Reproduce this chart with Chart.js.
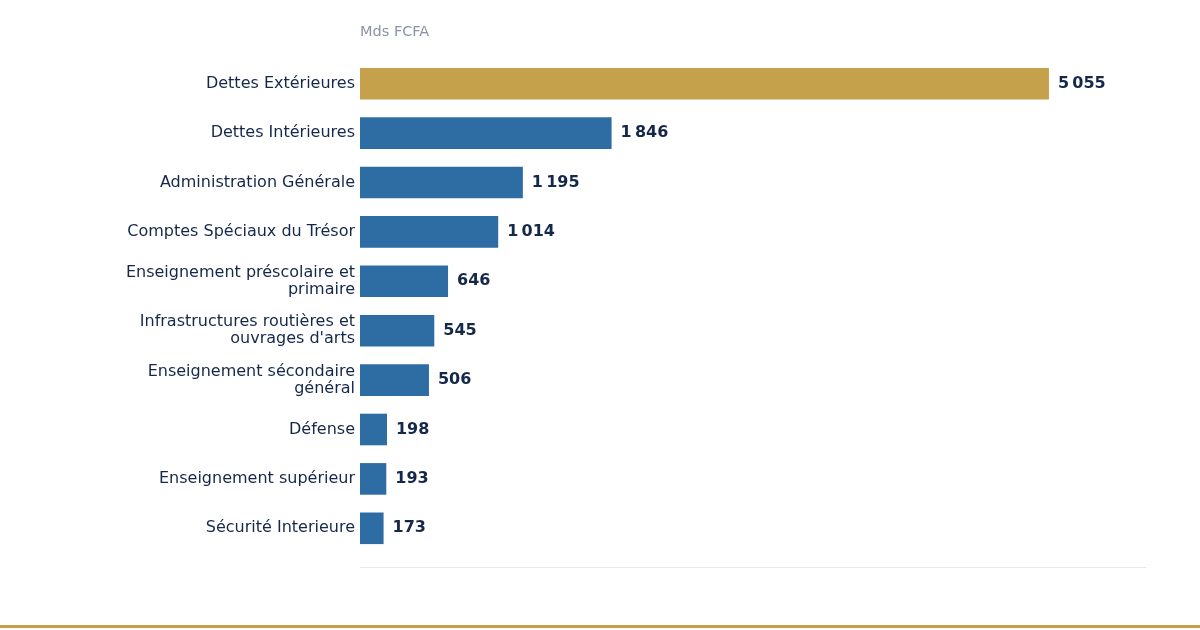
<!DOCTYPE html>
<html>
<head>
<meta charset="utf-8">
<script src="https://cdn.jsdelivr.net/npm/chart.js@4/dist/chart.umd.min.js"></script>
<style>
  html, body { margin: 0; padding: 0; background: #ffffff; }
  #wrap { width: 1200px; height: 630px; position: relative; overflow: hidden; }
  #c { display: block; }
  #goldline { position: absolute; left: 0; top: 625px; width: 1200px; height: 3px; background: #C4A04E; }
</style>
</head>
<body>
<div id="wrap">
  <canvas id="c" width="1200" height="624"></canvas>
  <div id="goldline"></div>
</div>
<script>
const categories = [
  "Dettes Extérieures",
  "Dettes Intérieures",
  "Administration Générale",
  "Comptes Spéciaux du Trésor",
  ["Enseignement préscolaire et", "primaire"],
  ["Infrastructures routières et", "ouvrages d'arts"],
  ["Enseignement sécondaire", "général"],
  "Défense",
  "Enseignement supérieur",
  "Sécurité Interieure"
];
const values = [5055, 1846, 1195, 1014, 646, 545, 506, 198, 193, 173];
const unitLabel = "Mds FCFA";

const GOLD = "#C5A14B";
const BLUE = "#2E6DA4";
const NAVY = "#15284A";
const FONT = "'DejaVu Sans', sans-serif";

function fmt(v) {
  return String(v).replace(/\B(?=(\d{3})+(?!\d))/g, "\u202f");
}

const valueLabels = {
  id: "valueLabels",
  afterDatasetsDraw(chart) {
    const ctx = chart.ctx;
    const meta = chart.getDatasetMeta(0);
    ctx.save();
    ctx.font = "bold 16px " + FONT;
    ctx.fillStyle = NAVY;
    ctx.textAlign = "left";
    ctx.textBaseline = "middle";
    meta.data.forEach((bar, i) => {
      ctx.fillText(fmt(values[i]), bar.x + 9, bar.y);
    });
    ctx.restore();
  }
};

const baseLine = {
  id: "baseLine",
  afterDraw(chart) {
    const a = chart.chartArea;
    const ctx = chart.ctx;
    ctx.save();
    ctx.strokeStyle = "#E8E8E8";
    ctx.lineWidth = 1;
    ctx.beginPath();
    ctx.moveTo(a.left, Math.round(a.bottom + 14) + 0.5);
    ctx.lineTo(a.right, Math.round(a.bottom + 14) + 0.5);
    ctx.stroke();
    ctx.restore();
  }
};

new Chart(document.getElementById("c"), {
  type: "bar",
  data: {
    labels: categories,
    datasets: [{
      data: values,
      backgroundColor: values.map((v, i) => i === 0 ? GOLD : BLUE),
      categoryPercentage: 0.64,
      barPercentage: 1.0,
      borderWidth: 0
    }]
  },
  options: {
    indexAxis: "y",
    responsive: false,
    animation: false,
    devicePixelRatio: 1,
    layout: { padding: { left: 0, right: 54, top: 0, bottom: 71 } },
    plugins: {
      legend: { display: false },
      tooltip: { enabled: false }
    },
    scales: {
      x: {
        position: "top",
        min: 0,
        max: 5767,
        grid: { display: false, drawTicks: false },
        border: { display: false },
        ticks: { display: false },
        title: {
          display: true,
          text: unitLabel,
          align: "start",
          color: "#8A94A6",
          font: { family: FONT, size: 14.5 },
          padding: { top: 24, bottom: 0 }
        },
        afterFit(scale) { scale.height = 59; }
      },
      y: {
        grid: { display: false, drawTicks: false },
        border: { display: false },
        ticks: {
          color: NAVY,
          font: { family: FONT, size: 16, lineHeight: 1.07 },
          padding: 5
        },
        afterFit(scale) { scale.width = 360; }
      }
    }
  },
  plugins: [valueLabels, baseLine]
});
</script>
</body>
</html>
